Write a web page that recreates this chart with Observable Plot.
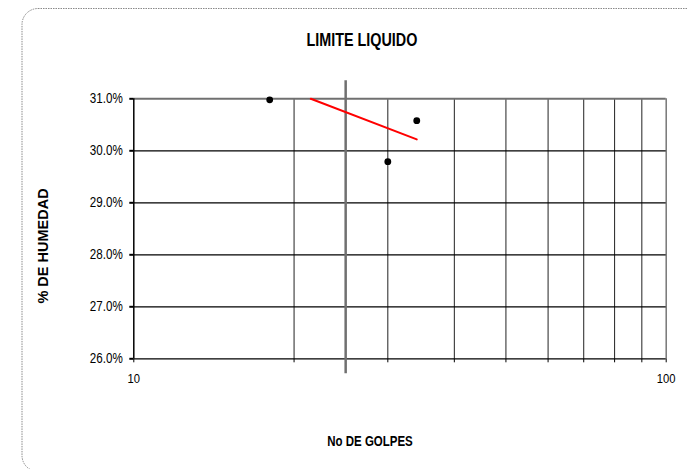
<!DOCTYPE html>
<html>
<head>
<meta charset="utf-8">
<script src="https://cdn.jsdelivr.net/npm/d3@7"></script>
<script src="https://cdn.jsdelivr.net/npm/@observablehq/plot@0.6"></script>
<style>
  html, body { margin: 0; padding: 0; background: #fff; }
  #chart { width: 688px; height: 469px; overflow: hidden; }
</style>
</head>
<body>
<div id="chart"></div>
<script>
// ---- data ----
const golpes = [18, 30, 34];
const humedad = [30.98, 29.79, 30.58];
const trendGolpes = [21.5, 34];
const trendHumedad = [31.0, 30.22];
const refGolpes = [25];
const xGrid = [20, 30, 40, 50, 60, 70, 80, 90];
const xTicks = [10, 20, 30, 40, 50, 60, 70, 80, 90, 100];
const xTickLabels = [10, 100];
const yTicks = [26, 27, 28, 29, 30, 31];
const title = "LIMITE LIQUIDO";
const xTitle = "No DE GOLPES";
const yTitle = "% DE HUMEDAD";

const points = golpes.map((g, i) => ({g, h: humedad[i]}));
const trend = trendGolpes.map((g, i) => ({g, h: trendHumedad[i]}));

const font = "'Liberation Sans', Arial, sans-serif";

const chart = Plot.plot({
  width: 688,
  height: 469,
  marginLeft: 133.3,
  marginRight: 22.3,
  marginTop: 98.3,
  marginBottom: 110.7,
  style: {fontFamily: font, fontSize: "14px", color: "#000", background: "transparent", overflow: "visible"},
  x: {type: "log", domain: [10, 100]},
  y: {domain: [26, 31]},
  marks: [
    Plot.ruleX(xGrid, {stroke: "#222", strokeWidth: 1}),
    Plot.ruleX([100], {stroke: "#777", strokeWidth: 1.5}),
    Plot.ruleY(yTicks.filter(d => d < 31), {stroke: "#000", strokeWidth: 1.3}),
    Plot.ruleY([31], {stroke: "#707070", strokeWidth: 2}),
    Plot.ruleX(refGolpes, {stroke: "#707070", strokeWidth: 2.5, insetTop: -18, insetBottom: -15}),
    Plot.ruleX([10], {stroke: "#000", strokeWidth: 1.5}),
    Plot.axisX({ticks: xTicks, tickSize: 4, tickPadding: 11, strokeWidth: 1, fontSize: 13.5,
      tickFormat: d => xTickLabels.includes(d) ? String(d) : "", label: null}),
    Plot.axisY({ticks: yTicks, tickSize: 4, tickPadding: 7, strokeWidth: 2,
      tickFormat: d => d.toFixed(1) + "%", label: null}),
    Plot.line(trend, {x: "g", y: "h", stroke: "#ff0000", strokeWidth: 2}),
    Plot.dot(points, {x: "g", y: "h", r: 3.4, fill: "#000", stroke: "none"})
  ]
});

document.getElementById("chart").appendChild(chart);

const svg = d3.select(chart);

// condense text to mimic a narrow face
function squeeze(sel, k) {
  sel.each(function () {
    const t = d3.select(this);
    if (!this.textContent) return;
    const w = this.getComputedTextLength();
    if (w > 0) t.attr("textLength", w * k).attr("lengthAdjust", "spacingAndGlyphs");
  });
}
squeeze(svg.selectAll("[aria-label^='y-axis'] text, [aria-label^='x-axis'] text"), 0.83);

svg.insert("rect", ":first-child")
  .attr("x", 22).attr("y", 8.5).attr("width", 780).attr("height", 463)
  .attr("rx", 16).attr("ry", 16)
  .attr("fill", "none").attr("stroke", "#8a8a8a").attr("stroke-width", 1)
  .attr("stroke-dasharray", "1.5,1");

const tTitle = svg.append("text")
  .attr("x", 362).attr("y", 46)
  .attr("text-anchor", "middle")
  .style("font-family", font).style("font-weight", "bold").style("font-size", "17.5px")
  .attr("fill", "#000")
  .text(title);
squeeze(tTitle, 0.82);

const tX = svg.append("text")
  .attr("x", 370).attr("y", 446)
  .attr("text-anchor", "middle")
  .style("font-family", font).style("font-weight", "bold").style("font-size", "14px")
  .attr("fill", "#000")
  .text(xTitle);
squeeze(tX, 0.82);

svg.append("text")
  .attr("transform", "translate(48,246) rotate(-90)")
  .attr("text-anchor", "middle")
  .style("font-family", font).style("font-weight", "bold").style("font-size", "14.5px")
  .attr("fill", "#000")
  .text(yTitle);
</script>
</body>
</html>
